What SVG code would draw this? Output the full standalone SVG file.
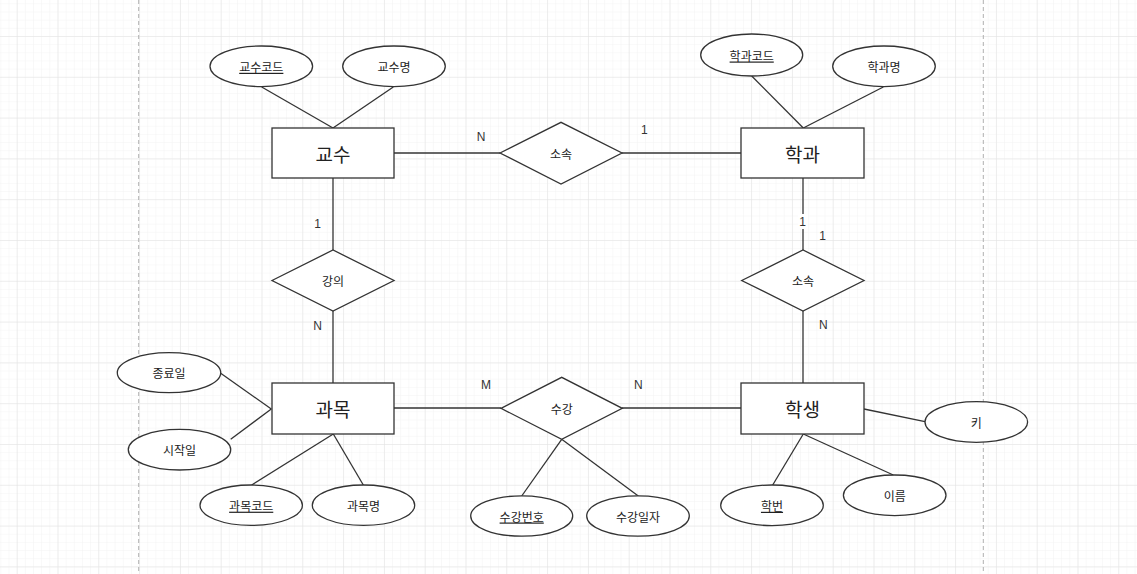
<svg xmlns="http://www.w3.org/2000/svg" width="1137" height="574" viewBox="0 0 1137 574">
<style>
.ent{fill:#fff;stroke:#333;stroke-width:1.3}
.rel{fill:#fff;stroke:#333;stroke-width:1.3}
.att{fill:#fff;stroke:#333;stroke-width:1.3}
.ln{stroke:#333;stroke-width:1.3;fill:none}
.et{font-family:"Noto Sans CJK KR","Noto Sans",sans-serif;font-size:19px;fill:#222;text-anchor:middle;dominant-baseline:central}
.at{font-family:"Noto Sans CJK KR","Noto Sans",sans-serif;font-size:12px;fill:#222;text-anchor:middle;dominant-baseline:central}
.u{text-decoration:underline}
.lb{font-family:"Liberation Sans",Arial,sans-serif;font-size:12px;fill:#333;text-anchor:middle;dominant-baseline:central}
</style>
<defs>
<pattern id="minor" patternUnits="userSpaceOnUse" x="16.7" y="36" width="8.16" height="8.16">
<path d="M0 0H8.16M0 0V8.16" stroke="#f3f3f3" stroke-width="1" fill="none"/>
</pattern>
<pattern id="major" patternUnits="userSpaceOnUse" x="16.7" y="36" width="40.8" height="40.8">
<path d="M0 0H40.8M0 0V40.8" stroke="#e2e2e2" stroke-width="1" fill="none"/>
</pattern>
</defs>
<rect width="1137" height="574" fill="#fff"/>
<rect width="1137" height="574" fill="url(#minor)"/>
<rect width="1137" height="574" fill="url(#major)"/>
<line x1="138.7" y1="0" x2="138.7" y2="574" stroke="#b0b0b0" stroke-dasharray="4 3"/>
<line x1="983.3" y1="0" x2="983.3" y2="574" stroke="#b0b0b0" stroke-dasharray="4 3"/>

<g id="connectors">
<line class="ln" x1="394" y1="153" x2="500" y2="153"/>
<line class="ln" x1="622" y1="153" x2="741" y2="153"/>
<line class="ln" x1="333" y1="178" x2="333" y2="250"/>
<line class="ln" x1="333" y1="311" x2="333" y2="383"/>
<line class="ln" x1="803" y1="178" x2="803" y2="250"/>
<line class="ln" x1="803" y1="311" x2="803" y2="383"/>
<line class="ln" x1="394" y1="408" x2="501" y2="408"/>
<line class="ln" x1="622" y1="408" x2="741" y2="408"/>
<line class="ln" x1="261.7" y1="87" x2="333" y2="128"/>
<line class="ln" x1="393.3" y1="87" x2="333" y2="128"/>
<line class="ln" x1="751.7" y1="76" x2="803.3" y2="128"/>
<line class="ln" x1="883.3" y1="87" x2="803.3" y2="128"/>
<line class="ln" x1="220.7" y1="373.3" x2="271.3" y2="409"/>
<line class="ln" x1="230.7" y1="439.3" x2="271.3" y2="409"/>
<line class="ln" x1="251.7" y1="485" x2="333.3" y2="434"/>
<line class="ln" x1="363.3" y1="485" x2="333.3" y2="434"/>
<line class="ln" x1="521.7" y1="496" x2="561.7" y2="439.3"/>
<line class="ln" x1="638.3" y1="496" x2="561.7" y2="439.3"/>
<line class="ln" x1="864" y1="409" x2="925" y2="421.7"/>
<line class="ln" x1="803.3" y1="434" x2="772.7" y2="485"/>
<line class="ln" x1="803.3" y1="434" x2="893.3" y2="475"/>
<text class="lb" x="481" y="137">N</text>
<text class="lb" x="644.3" y="130">1</text>
<text class="lb" x="317.7" y="224">1</text>
<text class="lb" x="317.7" y="326">N</text>
<rect x="798" y="214" width="10" height="15" fill="#fff"/>
<text class="lb" x="802.7" y="221.7">1</text>
<text class="lb" x="822.7" y="235.7">1</text>
<text class="lb" x="823.3" y="325">N</text>
<text class="lb" x="486" y="385">M</text>
<text class="lb" x="638.3" y="385">N</text>
</g>

<g id="professor"><rect class="ent" x="272" y="128" width="122" height="50"/><text class="et" x="333" y="153">교수</text></g>
<g id="department"><rect class="ent" x="741" y="128" width="123" height="50"/><text class="et" x="802.5" y="153">학과</text></g>
<g id="course"><rect class="ent" x="272" y="383" width="122" height="51"/><text class="et" x="333" y="408.5">과목</text></g>
<g id="student"><rect class="ent" x="741" y="383" width="123" height="51"/><text class="et" x="802.5" y="408.5">학생</text></g>

<g id="rel-belong-top"><polygon class="rel" points="500,153 561,122.3 622,153 561,184"/><text class="at" x="561" y="153">소속</text></g>
<g id="rel-lecture"><polygon class="rel" points="272,280.5 333,250 394,280.5 333,311"/><text class="at" x="333" y="280.5">강의</text></g>
<g id="rel-belong-right"><polygon class="rel" points="741.7,280.5 803,250 864,280.5 803,311"/><text class="at" x="803" y="280.5">소속</text></g>
<g id="rel-enroll"><polygon class="rel" points="501,408.3 561.7,377.3 622.3,408.3 561.7,439.3"/><text class="at" x="561.7" y="408.3">수강</text></g>

<g id="attr-prof-code"><ellipse class="att" cx="261.3" cy="66.3" rx="51.3" ry="20.3"/><text class="at u" x="261.3" y="66.3">교수코드</text></g>
<g id="attr-prof-name"><ellipse class="att" cx="394" cy="66.3" rx="51.3" ry="20.3"/><text class="at" x="394" y="66.3">교수명</text></g>
<g id="attr-dept-code"><ellipse class="att" cx="751.7" cy="55" rx="51" ry="21"/><text class="at u" x="751.7" y="55">학과코드</text></g>
<g id="attr-dept-name"><ellipse class="att" cx="884" cy="66.3" rx="51.3" ry="20.3"/><text class="at" x="884" y="66.3">학과명</text></g>
<g id="attr-end"><ellipse class="att" cx="169" cy="372.7" rx="51.7" ry="20"/><text class="at" x="169" y="372.7">종료일</text></g>
<g id="attr-start"><ellipse class="att" cx="179.5" cy="449.7" rx="51.2" ry="20.3"/><text class="at" x="179.5" y="449.7">시작일</text></g>
<g id="attr-course-code"><ellipse class="att" cx="251.2" cy="505.2" rx="51.2" ry="20.2"/><text class="at u" x="251.2" y="505.2">과목코드</text></g>
<g id="attr-course-name"><ellipse class="att" cx="363.5" cy="505.2" rx="51.2" ry="20.2"/><text class="at" x="363.5" y="505.2">과목명</text></g>
<g id="attr-enroll-no"><ellipse class="att" cx="521.7" cy="516" rx="51" ry="20.2"/><text class="at u" x="521.7" y="516">수강번호</text></g>
<g id="attr-enroll-date"><ellipse class="att" cx="638" cy="516" rx="51.3" ry="20.2"/><text class="at" x="638" y="516">수강일자</text></g>
<g id="attr-height"><ellipse class="att" cx="976.3" cy="422" rx="51.3" ry="20.3"/><text class="at" x="976.3" y="422">키</text></g>
<g id="attr-name"><ellipse class="att" cx="894.7" cy="495.3" rx="51.3" ry="20.3"/><text class="at" x="894.7" y="495.3">이름</text></g>
<g id="attr-student-no"><ellipse class="att" cx="772" cy="505.3" rx="51.3" ry="20.3"/><text class="at u" x="772" y="505.3">학번</text></g>
</svg>
